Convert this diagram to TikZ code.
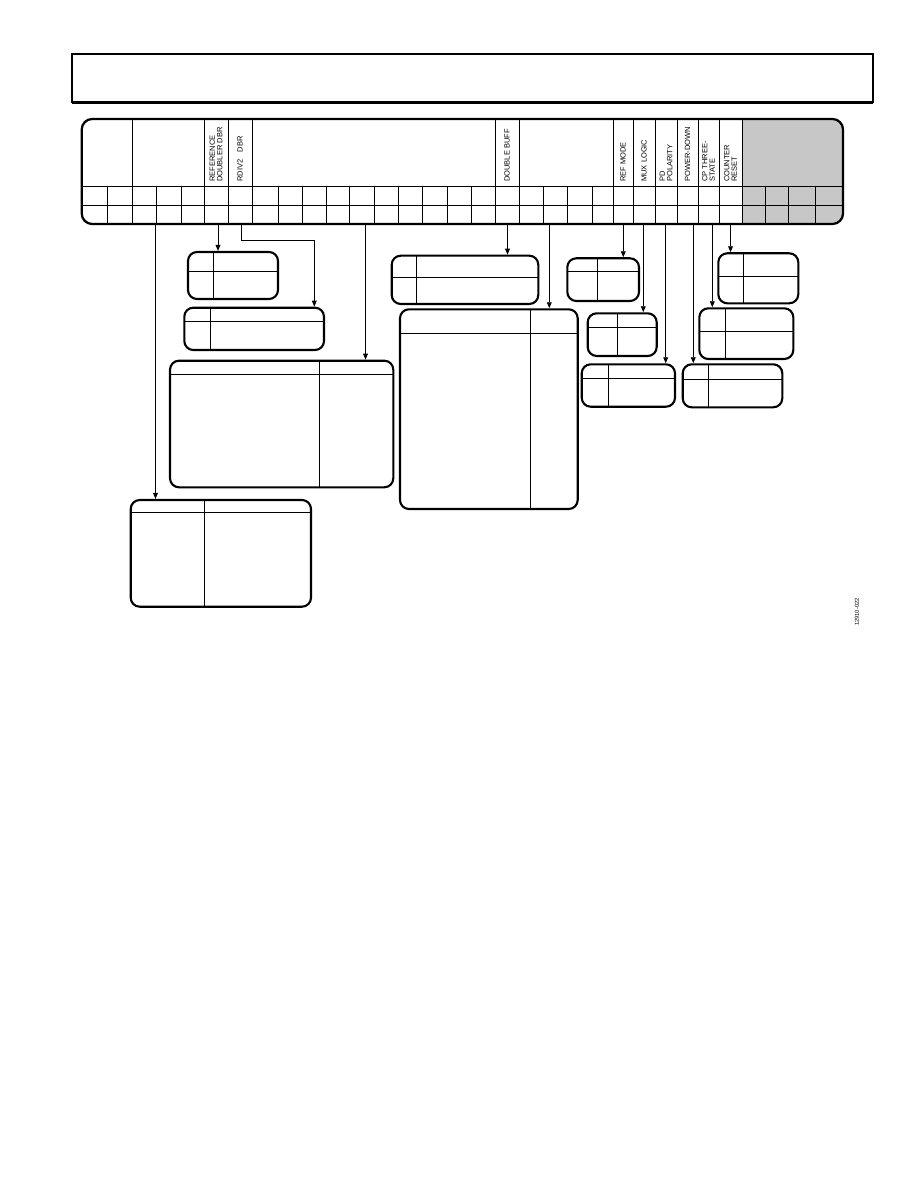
\documentclass[tikz,border=0pt]{standalone}
\usepackage{fontspec}
\newfontfamily\regfont{Liberation Sans}
\usetikzlibrary{arrows.meta,fit}

\begin{document}
\begin{tikzpicture}[
    x=0.6667pt, y=-0.6667pt,
    regframe/.style={draw, line width=1.5pt, rounded corners=7pt, inner sep=0pt},
    box/.style={draw, line width=1.4pt, rounded corners=6pt, inner sep=0pt},
    divider/.style={line width=0.6pt},
    gridline/.style={line width=0.6pt},
    tap/.style={line width=0.6pt, -{Triangle[length=4pt, width=3.2pt]}},
    bitlabel/.style={rotate=90, anchor=west, inner sep=0pt, align=left, font=\regfont\fontsize{5}{5}\selectfont}
]

\useasboundingbox (0,0) rectangle (918,1188);

% Page header frame
\draw[line width=0.8pt] (72,103) -- (72,54) -- (873,54) -- (873,103);
\draw[line width=2pt] (71.6,103) -- (873.4,103);

% Register: grey control bits, grid and frame
\begin{scope}
  \clip[rounded corners=7pt] (81.7,119) rectangle (843,224);
  \fill[black!22] (742,119) rectangle (843,224);
\end{scope}
\draw[gridline] (81.7,186) -- (843,186);
\draw[gridline] (81.7,205) -- (843,205);
\foreach \x in {107,132,156,181,204,228,252,278,302,326,349,374,398,422,447,471,495,519,543,567,592,613,633,655,677,698,719,742,765,788,815}
  \draw[gridline] (\x,186) -- (\x,224);
\foreach \x in {132,204,228,252,495,519,613,633,655,677,698,719,742}
  \draw[gridline] (\x,119) -- (\x,186);
\node[regframe, fit={(81.7,119) (843,224)}] (reg) {};

% Field names
\node[bitlabel] (lbldbl) at (216,182) {REFERENCE\\DOUBLER DBR};
\node[bitlabel] (lblrdiv) at (240,182) {RDIV2\hspace{5pt}DBR};
\node[bitlabel] (lbldbuf) at (507,182) {DOUBLE BUFF};
\node[bitlabel] (lblrefmode) at (623,182) {REF MODE};
\node[bitlabel] (lblmuxlog) at (644,182) {MUX LOGIC};
\node[bitlabel] (lblpdpol) at (666,182) {PD\\POLARITY};
\node[bitlabel] (lblpwrdn) at (687.5,182) {POWER-DOWN};
\node[bitlabel] (lblcp3) at (708.5,182) {CP THREE-\\STATE};
\node[bitlabel] (lblcntrst) at (730.5,182) {COUNTER\\RESET};

% Tap points under the register
\coordinate (tmux) at (155.5,224);
\coordinate (tdbl) at (218,224);
\coordinate (trdiv) at (241.7,224);
\coordinate (trcnt) at (365.5,224);
\coordinate (tdbuf) at (507.5,224);
\coordinate (tcpi) at (549.3,224);
\coordinate (trefmode) at (623.3,224);
\coordinate (tmuxlog) at (643.3,224);
\coordinate (tpdpol) at (665.7,224);
\coordinate (tpwrdn) at (693.3,224);
\coordinate (tcp3) at (712.3,224);
\coordinate (tcntrst) at (730.5,224);

% Setting tables
\node[box, fit={(188,252) (278,299)}] (dblbox) {};
\draw[divider] (213.3,252) -- (213.3,299);
\draw[divider] (188,271.7) -- (278,271.7);

\node[box, fit={(184.3,307.7) (324,350)}] (rdivbox) {};
\draw[divider] (210.3,307.7) -- (210.3,350);
\draw[divider] (184.3,321.7) -- (324,321.7);

\node[box, fit={(170,360.7) (393.3,487.3)}] (rcntbox) {};
\draw[divider] (319.3,360.7) -- (319.3,487.3);
\draw[divider] (170,374) -- (393.3,374);

\node[box, fit={(391.7,255.7) (538.3,304)}] (dbufbox) {};
\draw[divider] (416.3,255.7) -- (416.3,304);
\draw[divider] (391.7,277.3) -- (538.3,277.3);

\node[box, fit={(400,309.3) (577.7,509)}] (cpibox) {};
\draw[divider] (530.3,309.3) -- (530.3,509);
\draw[divider] (400,333.3) -- (577.7,333.3);

\node[box, fit={(567.3,258.3) (639,301)}] (refmodebox) {};
\draw[divider] (597.3,258.3) -- (597.3,301);
\draw[divider] (567.3,271.7) -- (639,271.7);

\node[box, fit={(587.7,313.3) (656.7,356)}] (muxlogbox) {};
\draw[divider] (617.7,313.3) -- (617.7,356);
\draw[divider] (587.7,327.3) -- (656.7,327.3);

\node[box, fit={(581.7,364.3) (675,406.7)}] (pdpolbox) {};
\draw[divider] (608.3,364.3) -- (608.3,406.7);
\draw[divider] (581.7,378.3) -- (675,378.3);

\node[box, fit={(682.7,364.3) (782.3,407.3)}] (pwrdnbox) {};
\draw[divider] (708.3,364.3) -- (708.3,407.3);
\draw[divider] (682.7,379) -- (782.3,379);

\node[box, fit={(699.3,308.3) (793.3,359)}] (cp3box) {};
\draw[divider] (725.7,308.3) -- (725.7,359);
\draw[divider] (699.3,331.7) -- (793.3,331.7);

\node[box, fit={(718.3,253.3) (798.3,303.3)}] (cntrstbox) {};
\draw[divider] (743.3,253.3) -- (743.3,303.3);
\draw[divider] (718.3,276.7) -- (798.3,276.7);

\node[box, fit={(130.7,500) (311,606.7)}] (muxbox) {};
\draw[divider] (204.3,500) -- (204.3,606.7);
\draw[divider] (130.7,512.3) -- (311,512.3);

% Arrows from the bits to their tables
\coordinate (rdivbend) at (314.3,240);
\draw[tap] (tmux) -- (tmux |- muxbox.north);
\draw[tap] (tdbl) -- (tdbl |- dblbox.north);
\draw[tap] (trdiv) |- (rdivbend) -- (rdivbend |- rdivbox.north);
\draw[tap] (trcnt) -- (trcnt |- rcntbox.north);
\draw[tap] (tdbuf) -- (tdbuf |- dbufbox.north);
\draw[tap] (tcpi) -- (tcpi |- cpibox.north);
\draw[tap] (trefmode) -- (trefmode |- refmodebox.north);
\draw[tap] (tmuxlog) -- (tmuxlog |- muxlogbox.north);
\draw[tap] (tpdpol) -- (tpdpol |- pdpolbox.north);
\draw[tap] (tpwrdn) -- (tpwrdn |- pwrdnbox.north);
\draw[tap] (tcp3) -- (tcp3 |- cp3box.north);
\draw[tap] (tcntrst) -- (tcntrst |- cntrstbox.north);

% Figure number
\node[rotate=90, anchor=west, inner sep=0pt, font=\regfont\fontsize{3.8}{4}\selectfont] (fignum) at (857,626) {12910-022};

\end{tikzpicture}
\end{document}
